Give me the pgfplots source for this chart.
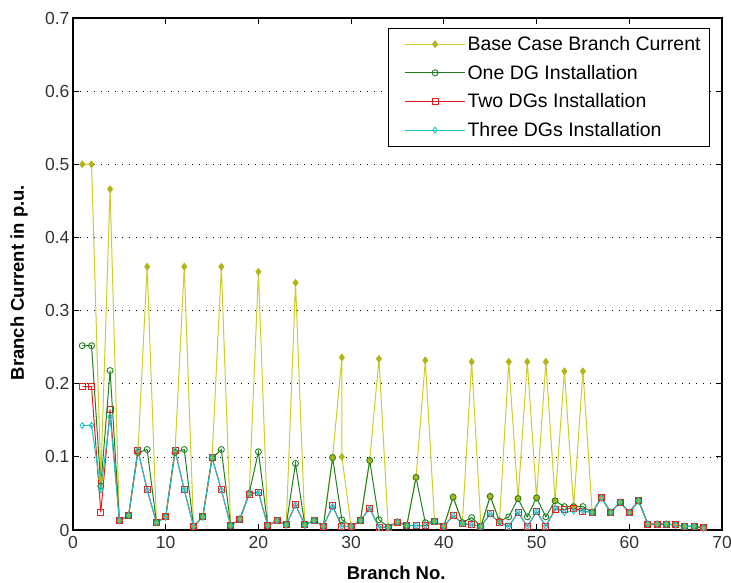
\documentclass[border=0pt]{standalone}
\usepackage{pgfplots}
\pgfplotsset{compat=1.18}
\usepackage{pgfplotstable}
\usepackage{fontspec}
\setmainfont{Liberation Sans}

\definecolor{baseY}{RGB}{205,205,40}
\definecolor{baseM}{RGB}{180,180,20}
\definecolor{oneG}{RGB}{30,130,30}
\definecolor{twoR}{RGB}{230,30,30}
\definecolor{threeC}{RGB}{30,195,200}

% branch currents in p.u.
\pgfplotstableread{
x y
1 0.500
2 0.500
3 0.070
4 0.466
5 0.013
6 0.020
7 0.106
8 0.360
9 0.010
10 0.018
11 0.106
12 0.360
13 0.005
14 0.018
15 0.098
16 0.360
17 0.006
18 0.015
19 0.050
20 0.353
21 0.006
22 0.013
23 0.007
24 0.338
25 0.007
26 0.013
27 0.005
28 0.099
29 0.236
29 0.100
30 0.005
31 0.013
32 0.095
33 0.234
34 0.004
35 0.011
36 0.006
37 0.072
38 0.232
39 0.012
40 0.005
41 0.045
42 0.010
43 0.230
44 0.005
45 0.046
46 0.012
47 0.230
48 0.043
49 0.230
50 0.044
51 0.230
52 0.040
53 0.217
54 0.032
55 0.217
56 0.024
57 0.044
58 0.024
59 0.038
60 0.024
61 0.040
62 0.008
63 0.008
64 0.008
65 0.007
66 0.005
67 0.005
68 0.003
}\basecase

\pgfplotstableread{
x y
1 0.252
2 0.252
3 0.060
4 0.218
5 0.013
6 0.020
7 0.106
8 0.110
9 0.010
10 0.018
11 0.106
12 0.110
13 0.005
14 0.018
15 0.098
16 0.110
17 0.006
18 0.015
19 0.050
20 0.107
21 0.006
22 0.013
23 0.007
24 0.091
25 0.007
26 0.013
27 0.005
28 0.099
29 0.014
30 0.005
31 0.013
32 0.095
33 0.014
34 0.004
35 0.011
36 0.006
37 0.072
38 0.010
39 0.012
40 0.005
41 0.045
42 0.010
43 0.017
44 0.005
45 0.046
46 0.012
47 0.018
48 0.043
49 0.018
50 0.044
51 0.018
52 0.040
53 0.032
54 0.032
55 0.032
56 0.024
57 0.044
58 0.024
59 0.038
60 0.024
61 0.040
62 0.008
63 0.008
64 0.008
65 0.007
66 0.005
67 0.005
68 0.003
}\oneDG

\pgfplotstableread{
x y
1 0.196
2 0.196
3 0.024
4 0.165
5 0.013
6 0.020
7 0.109
8 0.055
9 0.010
10 0.018
11 0.109
12 0.055
13 0.005
14 0.018
15 0.099
16 0.055
17 0.006
18 0.015
19 0.049
20 0.052
21 0.006
22 0.013
23 0.007
24 0.035
25 0.007
26 0.013
27 0.005
28 0.033
29 0.005
30 0.005
31 0.013
32 0.030
33 0.004
34 0.004
35 0.011
36 0.006
37 0.006
38 0.006
39 0.012
40 0.005
41 0.020
42 0.009
43 0.007
44 0.005
45 0.022
46 0.010
47 0.005
48 0.024
49 0.005
50 0.025
51 0.005
52 0.028
53 0.028
54 0.030
55 0.026
56 0.024
57 0.044
58 0.024
59 0.038
60 0.024
61 0.040
62 0.008
63 0.008
64 0.008
65 0.007
66 0.005
67 0.005
68 0.003
}\twoDG

\pgfplotstableread{
x y
1 0.143
2 0.143
3 0.055
4 0.155
5 0.013
6 0.020
7 0.109
8 0.055
9 0.010
10 0.018
11 0.109
12 0.055
13 0.005
14 0.018
15 0.099
16 0.055
17 0.006
18 0.015
19 0.049
20 0.051
21 0.006
22 0.013
23 0.007
24 0.034
25 0.007
26 0.013
27 0.005
28 0.032
29 0.005
30 0.005
31 0.013
32 0.029
33 0.004
34 0.004
35 0.011
36 0.006
37 0.006
38 0.006
39 0.012
40 0.005
41 0.020
42 0.009
43 0.007
44 0.005
45 0.022
46 0.010
47 0.005
48 0.024
49 0.005
50 0.025
51 0.005
52 0.030
53 0.024
54 0.026
55 0.026
56 0.024
57 0.044
58 0.024
59 0.038
60 0.024
61 0.040
62 0.008
63 0.008
64 0.008
65 0.007
66 0.005
67 0.005
68 0.003
}\threeDG

\begin{document}
\begin{tikzpicture}
\begin{axis}[
  scale only axis,
  width=649pt,
  height=512pt,
  xmin=0, xmax=70,
  ymin=0, ymax=0.7,
  xtick={0,10,20,30,40,50,60,70},
  ytick={0,0.1,0.2,0.3,0.4,0.5,0.6,0.7},
  yticklabel style={/pgf/number format/fixed,/pgf/number format/precision=1},
  /pgf/number format/assume math mode=true,
  tick label style={font=\fontsize{17.5}{20}\selectfont, color=black!80},
  xticklabel style={yshift=-3pt},
  tick align=inside,
  major tick length=6pt,
  tick style={black, line width=0.8pt},
  axis line style={black, line width=1.2pt},
  ymajorgrids,
  grid style={black, line width=0.7pt, dash pattern=on 1pt off 6pt},
  xlabel={\bfseries Branch No.},
  ylabel={\bfseries Branch Current in p.u.},
  label style={font=\fontsize{18.5}{22}\selectfont},
  xlabel style={at={(axis description cs:0.498,0)}, anchor=base, yshift=-49pt},
  ylabel style={at={(axis description cs:-0.083,0.483)}, anchor=center},
  legend style={at={(0.9815,0.9805)}, anchor=north east, draw=black, line width=0.8pt,
    font=\fontsize{19.5}{22}\selectfont, cells={anchor=west}, inner xsep=7pt, inner ysep=6pt,
    row sep=9pt},
  legend image code/.code={
    \path (-9pt,0pt);
    \draw[mark repeat=2,mark phase=2,#1] plot coordinates {(0pt,0pt) (30pt,0pt) (60pt,0pt)};
  },
]
\addplot[baseY, line width=1pt, mark=diamond*, mark size=3.2pt,
  mark options={fill=baseM, draw=baseM}] table {\basecase};
\addlegendentry{Base Case Branch Current}
\addplot[oneG, line width=1pt, mark=o, mark size=3pt,
  mark options={line width=0.9pt}] table {\oneDG};
\addlegendentry{One DG Installation}
\addplot[twoR, line width=1pt, mark=square, mark size=3pt,
  mark options={line width=0.9pt}] table {\twoDG};
\addlegendentry{Two DGs Installation}
\addplot[threeC, line width=1pt, mark=diamond, mark size=3pt,
  mark options={line width=0.9pt}] table {\threeDG};
\addlegendentry{Three DGs Installation}
\end{axis}
\pgfresetboundingbox
\path[use as bounding box] (-73pt,-52pt) rectangle (658pt,530pt);
\end{tikzpicture}
\end{document}
